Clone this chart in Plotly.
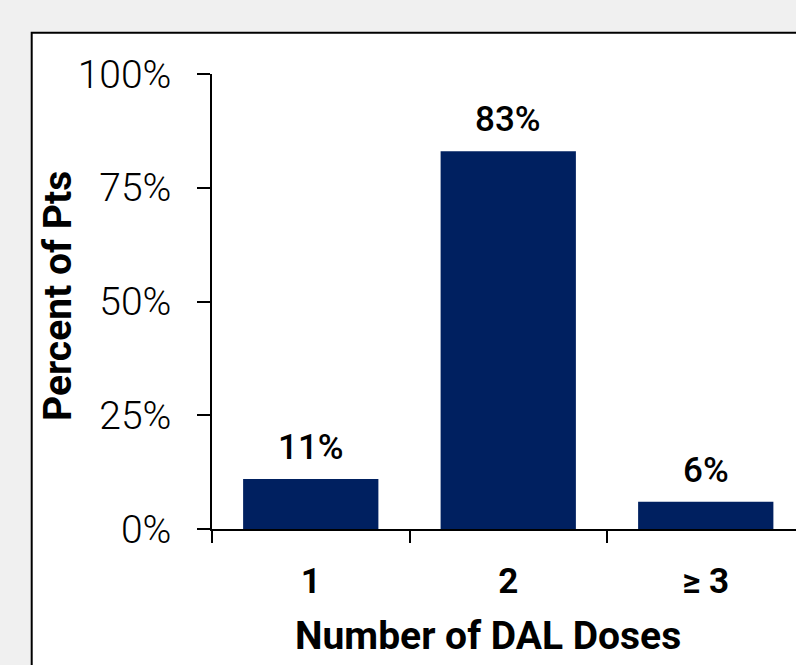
import plotly.graph_objects as go

categories = ["1", "2", "\u2265 3"]
percents = [11, 83, 6]
label_texts = ["11%", "83%", "6%"]
y_tickvals = [0, 25, 50, 75, 100]
y_ticktext = ["0%", "25%", "50%", "75%", "100%"]
x_title = "Number of DAL Doses"
y_title = "Percent of Pts"

FONT = "Roboto"
BAR = "#002060"
INK = "#000000"

W, H = 796, 665
ml, mr, mt, mb = 212, 0, 74, 136
pw = W - ml - mr
ph = H - mt - mb
cat_px = 197.5
x_end = -0.5 + pw / cat_px


def px_x(p):
    return (p - ml) / pw


def px_y(p):
    return (mt + ph - p) / ph


fig = go.Figure()
fig.add_trace(go.Bar(
    x=categories, y=percents, width=0.685,
    marker=dict(color=BAR, line=dict(width=0)),
    hoverinfo="skip",
))

for i, (v, t) in enumerate(zip(percents, label_texts)):
    fig.add_annotation(x=i, y=v, text=t, showarrow=False, yanchor="bottom",
                       yshift=9, font=dict(family=FONT, size=35, color=INK, weight=500))

# axis titles placed as annotations
fig.add_annotation(xref="paper", yref="paper", x=px_x(488), y=px_y(636), text=x_title,
                   showarrow=False, xanchor="center", yanchor="middle",
                   font=dict(family=FONT, size=39, color=INK, weight="bold"))
fig.add_annotation(xref="paper", yref="paper", x=px_x(58), y=px_y(296), text=y_title,
                   textangle=-90, showarrow=False, xanchor="center", yanchor="middle",
                   font=dict(family=FONT, size=39, color=INK, weight="bold"))

# white framed panel
fig.add_shape(type="rect", xref="paper", yref="paper",
              x0=px_x(31.7), x1=px_x(W + 20),
              y0=px_y(H + 20), y1=px_y(32.7),
              fillcolor="white", line=dict(color="black", width=2), layer="below")

fig.update_layout(
    width=W, height=H,
    margin=dict(l=ml, r=mr, t=mt, b=mb, pad=0),
    paper_bgcolor="#f0f0f0", plot_bgcolor="white",
    showlegend=False,
    font=dict(family=FONT, color=INK),
)
fig.update_yaxes(
    range=[0, 100], tickvals=y_tickvals, ticktext=y_ticktext,
    ticks="outside", ticklen=13, tickwidth=1.5, tickcolor=INK,
    showline=True, linecolor=INK, linewidth=1.5,
    showgrid=False, zeroline=False,
    tickfont=dict(family=FONT, size=39, color=INK, weight=300),
    ticklabelstandoff=18,
)
fig.update_xaxes(
    type="category", range=[-0.5, x_end],
    ticks="outside", ticklen=12, tickwidth=1.5, tickcolor=INK, tickson="boundaries",
    showline=True, linecolor=INK, linewidth=1.5,
    showgrid=False, zeroline=False,
    tickfont=dict(family=FONT, size=35, color=INK, weight="bold"),
    ticklabelstandoff=20,
)

fig.write_html("out.html")
